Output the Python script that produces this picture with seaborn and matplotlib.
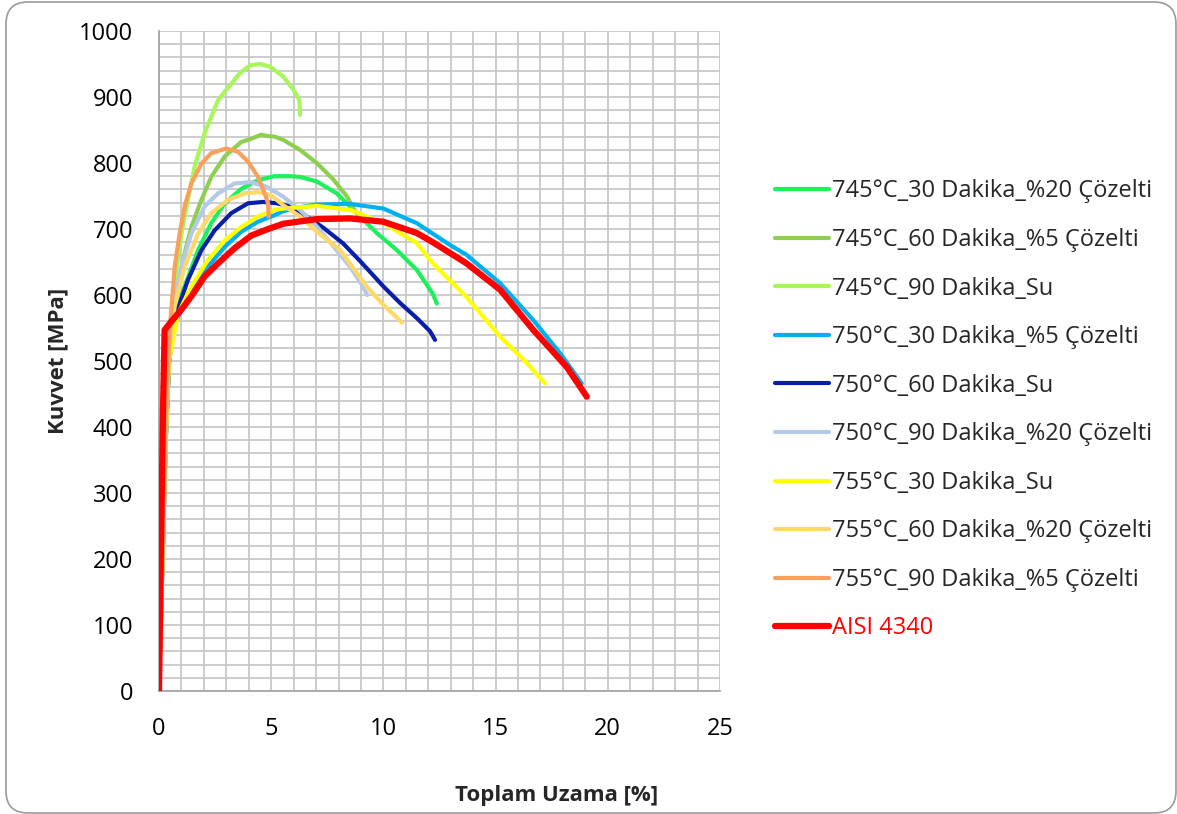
import numpy as np
import pandas as pd
import matplotlib
matplotlib.use("Agg")
import matplotlib.pyplot as plt
import seaborn as sns
from matplotlib.patches import FancyBboxPatch
from matplotlib.ticker import MultipleLocator

# ---------------- data ----------------
labels = [
    "745°C_30 Dakika_%20 Çözelti",
    "745°C_60 Dakika_%5 Çözelti",
    "745°C_90 Dakika_Su",
    "750°C_30 Dakika_%5 Çözelti",
    "750°C_60 Dakika_Su",
    "750°C_90 Dakika_%20 Çözelti",
    "755°C_30 Dakika_Su",
    "755°C_60 Dakika_%20 Çözelti",
    "755°C_90 Dakika_%5 Çözelti",
    "AISI 4340",
]
colors = ["#1df05a", "#8fcf50", "#a8f55c", "#00b0f0", "#0a1fa8",
          "#b4c8e8", "#ffff00", "#ffd966", "#f9a15c", "#ff0000"]

x_745_30 = [0, 0.3, 0.45, 0.62, 0.85, 1.14, 1.74, 2.33, 2.93, 3.67, 4.41, 5.15, 5.84, 6.28, 7.03,
            7.92, 8.81, 9.7, 10.6, 11.49, 12.2, 12.38]
y_745_30 = [0, 380, 500, 552, 585, 613, 668, 709, 739, 761, 774, 780, 780, 779, 772,
            754, 724, 694, 668, 638, 602, 587]

x_745_60 = [0, 0.3, 0.45, 0.55, 0.85, 1.14, 1.44, 1.89, 2.33, 2.93, 3.67, 4.06, 4.56, 4.8, 5.15,
            5.54, 6.28, 7.03, 7.77, 8.36, 8.66, 8.8]
y_745_60 = [0, 390, 510, 552, 613, 663, 703, 744, 779, 810, 832, 836, 843, 841, 840,
            835, 820, 800, 775, 750, 732, 724]

x_745_90 = [0, 0.3, 0.47, 0.7, 1.0, 1.29, 1.59, 2.03, 2.63, 3.0, 3.6, 4.06, 4.5, 4.95, 5.54,
            5.99, 6.26, 6.28]
y_745_90 = [0, 400, 547, 618, 693, 744, 795, 845, 895, 911, 936, 948, 950, 946, 931,
            911, 895, 873]

x_750_30 = [0, 0.3, 0.45, 0.7, 1.38, 2.18, 2.93, 3.67, 4.41, 5.15, 5.54, 6.28, 7.03, 8.51, 10.0,
            11.48, 12.96, 13.7, 15.2, 16.68, 17.87, 18.84]
y_750_30 = [0, 380, 500, 555, 605, 643, 673, 696, 711, 721, 727, 733, 737, 738, 731,
            709, 676, 661, 618, 562, 512, 466]

x_750_60 = [0, 0.3, 0.45, 0.77, 1.29, 1.89, 2.48, 3.22, 3.97, 4.65, 5.24, 5.75, 6.28, 7.32, 8.21,
            9.0, 10.0, 10.74, 11.49, 12.08, 12.3]
y_750_60 = [0, 380, 500, 572, 623, 668, 698, 724, 739, 741, 739, 735, 726, 702, 678,
            650, 613, 588, 565, 545, 532]

x_750_90 = [0, 0.3, 0.45, 0.7, 1.0, 1.44, 2.03, 2.63, 3.37, 4.06, 4.8, 5.54, 6.28, 7.03, 7.77,
            8.51, 9.0, 9.28]
y_750_90 = [0, 380, 510, 593, 643, 693, 734, 754, 769, 771, 764, 749, 729, 704, 674,
            643, 618, 600]

x_755_30 = [0, 0.3, 0.45, 0.85, 1.44, 2.18, 2.93, 3.67, 4.41, 5.15, 5.54, 7.03, 8.51, 10.0, 11.48,
            12.2, 13.7, 15.2, 16.39, 17.2]
y_755_30 = [0, 380, 500, 572, 613, 653, 683, 703, 719, 729, 731, 735, 729, 709, 679,
            648, 597, 537, 497, 466]

x_755_60 = [0, 0.3, 0.45, 0.7, 1.14, 1.74, 2.33, 3.07, 3.82, 4.41, 5.0, 5.54, 6.28, 7.03, 8.07,
            9.25, 10.0, 10.84]
y_755_60 = [0, 390, 515, 583, 643, 693, 724, 744, 754, 756, 751, 736, 719, 696, 668,
            613, 585, 558]

x_755_90 = [0, 0.3, 0.47, 0.7, 0.92, 1.14, 1.44, 1.89, 2.33, 3.0, 3.52, 3.97, 4.41, 4.71, 4.86,
            4.89]
y_755_90 = [0, 400, 542, 643, 693, 734, 769, 799, 815, 822, 817, 802, 779, 754, 739,
            719]

x_aisi = [0, 0.08, 0.18, 0.25, 0.55, 1.0, 1.44, 2.03, 2.63, 3.37, 4.11, 4.86, 5.54, 7.03, 8.51,
          10.0, 11.48, 12.2, 13.7, 15.2, 16.68, 18.17, 19.06]
y_aisi = [0, 200, 430, 547, 560, 578, 598, 628, 648, 671, 690, 700, 708, 715, 716,
          711, 694, 680, 648, 608, 547, 491, 446]

xs = [x_745_30, x_745_60, x_745_90, x_750_30, x_750_60, x_750_90,
      x_755_30, x_755_60, x_755_90, x_aisi]
ys = [y_745_30, y_745_60, y_745_90, y_750_30, y_750_60, y_750_90,
      y_755_30, y_755_60, y_755_90, y_aisi]

x_ticks = [0, 5, 10, 15, 20, 25]
y_ticks = [0, 100, 200, 300, 400, 500, 600, 700, 800, 900, 1000]

# ---------------- plot ----------------
sns.set_theme(style="white")
FONT = ["Open Sans", "DejaVu Sans"]
plt.rcParams["font.family"] = FONT

W, H = 1177, 814
fig = plt.figure(figsize=(W / 100, H / 100), dpi=100)
ax = fig.add_axes([159 / W, 1 - 691 / H, (720 - 159) / W, (691 - 31) / H])

rows = []
for lab, x, y in zip(labels, xs, ys):
    for i, (a, b) in enumerate(zip(x, y)):
        rows.append({"series": lab, "x": a, "y": b, "i": i})
df = pd.DataFrame(rows)

for lab, col in zip(labels, colors):
    sub = df[df["series"] == lab]
    lw = 4.5 if lab == "AISI 4340" else 3.0
    sns.lineplot(data=sub, x="x", y="y", sort=False, estimator=None, color=col,
                 lw=lw, ax=ax, label=lab, solid_capstyle="round",
                 solid_joinstyle="round", zorder=5 if lab == "AISI 4340" else 3)

ax.set_xlim(0, 25)
ax.set_ylim(0, 1000)
ax.set_xticks(x_ticks)
ax.set_yticks(y_ticks)
ax.xaxis.set_minor_locator(MultipleLocator(1))
ax.yaxis.set_minor_locator(MultipleLocator(20))
ax.grid(True, which="both", color="#c4c4c4", lw=1.2)
ax.set_axisbelow(True)
ax.tick_params(which="both", length=0, labelsize=17, colors="black")
ax.tick_params(axis="x", pad=19)
ax.tick_params(axis="y", pad=18.5)
for s in ["top", "right"]:
    ax.spines[s].set_visible(False)
for s in ["left", "bottom"]:
    ax.spines[s].set_color("#a6a6a6")
    ax.spines[s].set_linewidth(1.3)

ax.set_xlabel("")
ax.set_ylabel("")
fig.text(557 / W, 1 - 795 / H, "Toplam Uzama [%]", ha="center", va="center",
         fontsize=16, fontweight="bold", family=FONT)
fig.text(58 / W, 1 - 361 / H, "Kuvvet [MPa]", ha="center", va="center",
         rotation=90, fontsize=16, fontweight="bold", family=FONT)

handles, labs = ax.get_legend_handles_labels()
if ax.legend_:
    ax.legend_.remove()
leg = fig.legend(handles, labs, loc="upper left",
                 bbox_to_anchor=(766 / W, 1 - 170 / H), frameon=False,
                 fontsize=17, handlelength=2.25, handletextpad=0.15,
                 labelspacing=1.04, borderaxespad=0)
for t in leg.get_texts():
    if t.get_text() == "AISI 4340":
        t.set_color("red")

border = FancyBboxPatch((6, 1), 1170, 811, boxstyle="round,pad=0,rounding_size=22",
                        transform=None, fill=False, edgecolor="#9a9a9a", lw=1.2)
fig.patches.append(border)

fig.savefig("out.png", dpi=100)
